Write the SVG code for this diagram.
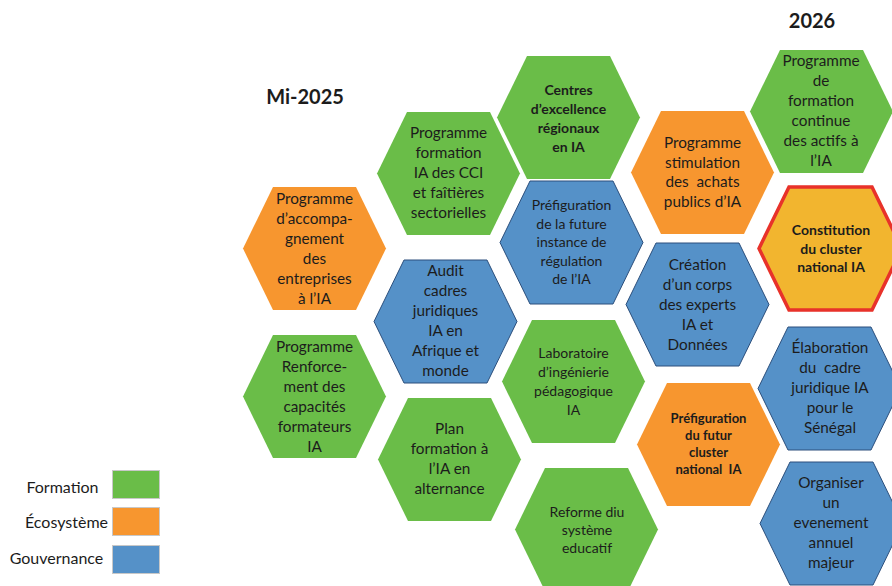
<svg xmlns="http://www.w3.org/2000/svg" xmlns:xlink="http://www.w3.org/1999/xlink" width="892" height="586" viewBox="0 0 892 586">
  <style>
    text { font-family: Lato, "Liberation Sans", sans-serif; fill: #1c1c1c; text-anchor: middle; }
    .t { font-size: 15.3px; }
    .s { font-size: 14px; }
    .b { font-weight: bold; font-size: 14px; }
    .bs { font-weight: bold; font-size: 13px; }
    .head { font-weight: bold; font-size: 20px; }
    .leg { font-size: 16px; }
    .pre { white-space: pre; }
    .green { fill: #6abd48; }
    .orange { fill: #f7962f; }
    .blue { fill: #5591c8; stroke: #2c4f7c; stroke-width: 1; }
    .key { fill: #f2b52f; stroke: #e8322a; stroke-width: 3.5; }
    .swatch { stroke: #c8c8c8; stroke-width: 1; }
  </style>
  <defs>
    <!-- flat-top hexagon, 143 x 123 -->
    <polygon id="hex" points="0,61.5 30,0 113,0 143,61.5 113,123 30,123"/>
  </defs>

  <rect width="892" height="586" fill="#ffffff"/>

  <!-- period headings -->
  <text class="head" x="305" y="104">Mi-2025</text>
  <text class="head" x="812" y="28">2026</text>

  <!-- no connectors in this figure -->
  <g id="connectors"/>

  <g id="n-accompagnement">
    <use xlink:href="#hex" x="243" y="187" class="orange"/>
    <text class="t"><tspan x="314.5" y="204">Programme</tspan><tspan x="314.5" y="224">d’accompa-</tspan><tspan x="314.5" y="244">gnement</tspan><tspan x="314.5" y="264">des</tspan><tspan x="314.5" y="284">entreprises</tspan><tspan x="314.5" y="304">à l’IA</tspan></text>
  </g>

  <g id="n-renforcement">
    <use xlink:href="#hex" x="243" y="335" class="green"/>
    <text class="t"><tspan x="314.5" y="352">Programme</tspan><tspan x="314.5" y="372">Renforce-</tspan><tspan x="314.5" y="392">ment des</tspan><tspan x="314.5" y="412">capacités</tspan><tspan x="314.5" y="432">formateurs</tspan><tspan x="314.5" y="452">IA</tspan></text>
  </g>

  <g id="n-cci">
    <use xlink:href="#hex" x="377" y="112" class="green"/>
    <text class="t"><tspan x="448.5" y="138">Programme</tspan><tspan x="448.5" y="158">formation</tspan><tspan x="448.5" y="178">IA des CCI</tspan><tspan x="448.5" y="198">et faîtières</tspan><tspan x="448.5" y="218">sectorielles</tspan></text>
  </g>

  <g id="n-audit">
    <use xlink:href="#hex" x="374" y="260" class="blue"/>
    <text class="t"><tspan x="445.5" y="276">Audit</tspan><tspan x="445.5" y="296">cadres</tspan><tspan x="445.5" y="316">juridiques</tspan><tspan x="445.5" y="336">IA en</tspan><tspan x="445.5" y="356">Afrique et</tspan><tspan x="445.5" y="376">monde</tspan></text>
  </g>

  <g id="n-plan">
    <use xlink:href="#hex" x="378" y="398" class="green"/>
    <text class="t"><tspan x="449.5" y="434">Plan</tspan><tspan x="449.5" y="454">formation à</tspan><tspan x="449.5" y="474">l’IA en</tspan><tspan x="449.5" y="494">alternance</tspan></text>
  </g>

  <g id="n-centres">
    <use xlink:href="#hex" x="497" y="56" class="green"/>
    <text class="b"><tspan x="568.5" y="95">Centres</tspan><tspan x="568.5" y="114">d’excellence</tspan><tspan x="568.5" y="133">régionaux</tspan><tspan x="568.5" y="152">en IA</tspan></text>
  </g>

  <g id="n-regulation">
    <use xlink:href="#hex" x="500" y="181" class="blue"/>
    <text class="s"><tspan x="571.5" y="210">Préfiguration</tspan><tspan x="571.5" y="228.5">de la future</tspan><tspan x="571.5" y="247">instance de</tspan><tspan x="571.5" y="265.5">régulation</tspan><tspan x="571.5" y="284">de l’IA</tspan></text>
  </g>

  <g id="n-laboratoire">
    <use xlink:href="#hex" x="502" y="320" class="green"/>
    <text class="s"><tspan x="573.5" y="358">Laboratoire</tspan><tspan x="573.5" y="377">d’ingénierie</tspan><tspan x="573.5" y="396">pédagogique</tspan><tspan x="573.5" y="415">IA</tspan></text>
  </g>

  <g id="n-reforme">
    <use xlink:href="#hex" x="515" y="468" class="green"/>
    <text class="s"><tspan x="587" y="517">Reforme diu</tspan><tspan x="587" y="535">système</tspan><tspan x="587" y="553">educatif</tspan></text>
  </g>

  <g id="n-stimulation">
    <use xlink:href="#hex" x="631" y="111" class="orange"/>
    <text class="t pre"><tspan x="702.5" y="148">Programme</tspan><tspan x="702.5" y="167.5">stimulation</tspan><tspan x="702.5" y="187">des  achats</tspan><tspan x="702.5" y="206.5">publics d’IA</tspan></text>
  </g>

  <g id="n-experts">
    <use xlink:href="#hex" x="626" y="243" class="blue"/>
    <text class="t"><tspan x="697.5" y="270">Création</tspan><tspan x="697.5" y="290">d’un corps</tspan><tspan x="697.5" y="310">des experts</tspan><tspan x="697.5" y="330">IA et</tspan><tspan x="697.5" y="350">Données</tspan></text>
  </g>

  <g id="n-prefiguration-cluster">
    <use xlink:href="#hex" x="637" y="383" class="orange"/>
    <text class="bs pre"><tspan x="708.5" y="423">Préfiguration</tspan><tspan x="708.5" y="440">du futur</tspan><tspan x="708.5" y="457">cluster</tspan><tspan x="708.5" y="474">national  IA</tspan></text>
  </g>

  <g id="n-formation-continue">
    <use xlink:href="#hex" x="750" y="50" class="green"/>
    <text class="t"><tspan x="821" y="66">Programme</tspan><tspan x="821" y="86">de</tspan><tspan x="821" y="106">formation</tspan><tspan x="821" y="126">continue</tspan><tspan x="821" y="146">des actifs à</tspan><tspan x="821" y="166">l’IA</tspan></text>
  </g>

  <g id="n-cluster">
    <use xlink:href="#hex" x="759" y="187" class="key"/>
    <text class="b"><tspan x="831" y="235">Constitution</tspan><tspan x="831" y="253.5">du cluster</tspan><tspan x="831" y="272">national IA</tspan></text>
  </g>

  <g id="n-cadre-juridique">
    <use xlink:href="#hex" x="758" y="327" class="blue"/>
    <text class="t pre"><tspan x="830" y="353">Élaboration</tspan><tspan x="830" y="373">du  cadre</tspan><tspan x="830" y="393">juridique IA</tspan><tspan x="830" y="413">pour le</tspan><tspan x="830" y="433">Sénégal</tspan></text>
  </g>

  <g id="n-evenement">
    <use xlink:href="#hex" x="760" y="462" class="blue"/>
    <text class="t"><tspan x="831" y="488">Organiser</tspan><tspan x="831" y="508">un</tspan><tspan x="831" y="528">evenement</tspan><tspan x="831" y="548">annuel</tspan><tspan x="831" y="568">majeur</tspan></text>
  </g>

  <!-- legend -->
  <g id="legend">
    <text class="leg" x="62.5" y="493">Formation</text>
    <rect class="swatch green" x="112.5" y="470.5" width="47" height="28"/>
    <text class="leg" x="66.5" y="528">Écosystème</text>
    <rect class="swatch orange" x="112.5" y="507.5" width="47" height="28"/>
    <text class="leg" x="56.5" y="564">Gouvernance</text>
    <rect class="swatch" x="112.5" y="545.5" width="47" height="28" fill="#5591c8"/>
  </g>
</svg>
